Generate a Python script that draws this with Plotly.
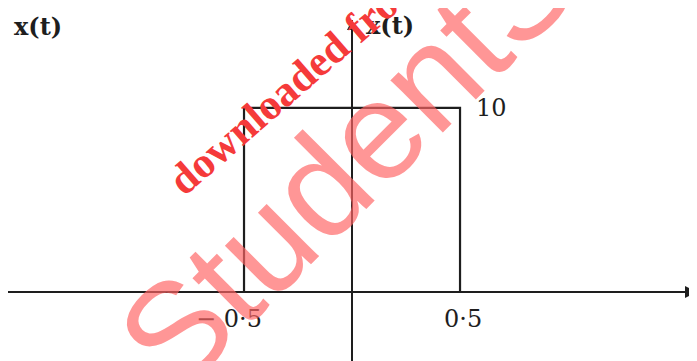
import plotly.graph_objects as go

# rectangular pulse x(t)
T_PULSE = [-0.5, -0.5, 0.5, 0.5]
X_PULSE = [0, 10, 10, 0]
T_TICKS = [-0.5, 0.5]
T_TICK_TEXT = ["\u2212 0\u00b75", "0\u00b75"]
AMPLITUDE = 10

SERIF = "DejaVu Serif"
INK = "#1e1e1e"

# the page body has an 8px margin, so the figure is a bit smaller than the window
W, H = 689, 353
TOP = 12
T_RANGE = [-1.5926, 1.597]
X_RANGE = [-3.75, 14.78]


def px(sx, sy):
    """window pixel -> paper coords"""
    return (sx - 8) / W, 1 - (sy - 8 - TOP) / (H - TOP)


fig = go.Figure()
fig.add_trace(go.Scatter(x=T_PULSE, y=X_PULSE, mode="lines",
                         line={"color": INK, "width": 2.2},
                         hoverinfo="skip", showlegend=False))

# arrow heads on the axes
fig.add_annotation(x=T_RANGE[1], y=0, ax=-18, ay=0, xref="x", yref="y",
                   showarrow=True, arrowhead=2, arrowsize=1.2, arrowwidth=2,
                   arrowcolor=INK, text="")
fig.add_annotation(x=0, y=X_RANGE[1], ax=0, ay=16, xref="x", yref="y",
                   showarrow=True, arrowhead=2, arrowsize=1.0, arrowwidth=2,
                   arrowcolor=INK, text="")

# labels
for tv, tt in zip(T_TICKS, T_TICK_TEXT):
    fig.add_annotation(x=tv, y=0, yshift=-27, xshift=-15 if tv < 0 else 3,
                       text=tt, showarrow=False,
                       font={"family": SERIF, "size": 24, "color": INK})
fig.add_annotation(x=T_PULSE[-1], y=AMPLITUDE, xshift=14, text=str(AMPLITUDE),
                   xanchor="left", showarrow=False,
                   font={"family": SERIF, "size": 24, "color": INK})
fig.add_annotation(x=0, y=X_RANGE[1], xshift=12, yshift=-5, xanchor="left",
                   text="<b>x(t)</b>", showarrow=False,
                   font={"family": SERIF, "size": 24, "color": INK})
lx, ly = px(12, 27)
fig.add_annotation(xref="paper", yref="paper", x=lx, y=ly,
                   xanchor="left", yanchor="middle", text="<b>x(t)</b>",
                   showarrow=False,
                   font={"family": SERIF, "size": 24, "color": INK})
fig.add_annotation(x=T_RANGE[1], y=0, xshift=-3, yshift=-27, xanchor="left",
                   text="t", showarrow=False,
                   font={"family": SERIF, "size": 24, "color": INK})

# watermark
wx, wy = px(492, 14)
fig.add_annotation(xref="paper", yref="paper", x=wx, y=wy,
                   xanchor="center", yanchor="middle",
                   text="StudentSuvidha", textangle=-45, showarrow=False,
                   font={"family": "Liberation Sans", "size": 140,
                         "color": "rgba(255,100,100,0.68)"})
dx, dy = px(296, 80)
fig.add_annotation(xref="paper", yref="paper", x=dx, y=dy,
                   xanchor="center", yanchor="middle",
                   text="<b>downloaded from</b>", textangle=-41, showarrow=False,
                   font={"family": "Liberation Serif", "size": 43,
                         "color": "#f53a3a"})

fig.update_xaxes(range=T_RANGE, showgrid=False, showticklabels=False, ticks="",
                 showline=False, zeroline=True, zerolinecolor=INK, zerolinewidth=2)
fig.update_yaxes(range=X_RANGE, showgrid=False, showticklabels=False, ticks="",
                 showline=False, zeroline=True, zerolinecolor=INK, zerolinewidth=2)

fig.update_layout(width=W, height=H, autosize=False,
                  margin=dict(l=0, r=0, t=TOP, b=0),
                  paper_bgcolor="white", plot_bgcolor="white")
fig.write_html("out.html")
